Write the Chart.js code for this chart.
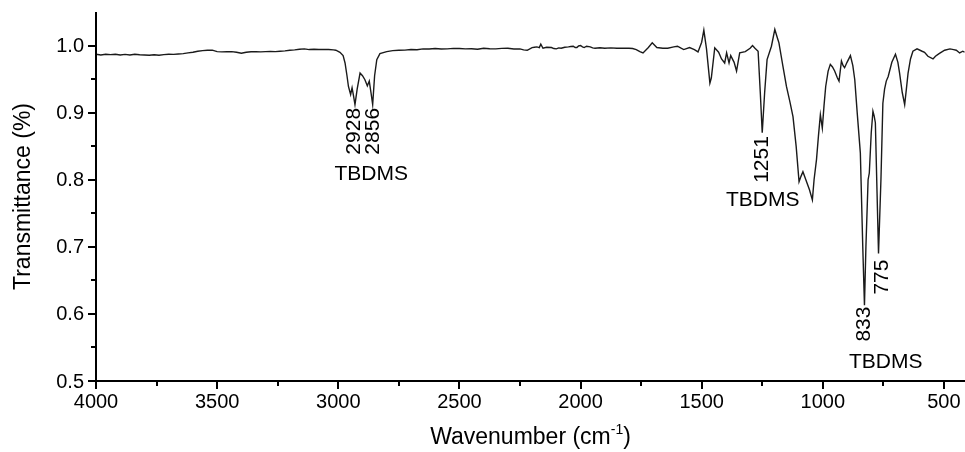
<!DOCTYPE html>
<html>
<head>
<meta charset="utf-8">
<script src="https://cdn.jsdelivr.net/npm/chart.js@4/dist/chart.umd.min.js"></script>
<style>
  html, body { margin: 0; padding: 0; background: #ffffff; }
  #wrap { width: 965px; height: 452px; position: relative; }
</style>
</head>
<body>
<div id="wrap"><canvas id="c"></canvas></div>
<script>
// ---- Data ----
const wavenumbers = [
  4000, 3980, 3960, 3940, 3920, 3900, 3880, 3860, 3840, 3820, 3800, 3780, 3760, 3740, 3720, 3700,
  3680, 3660, 3640, 3620, 3600, 3580, 3560, 3540, 3520, 3500, 3480, 3460, 3440, 3420, 3400, 3380,
  3360, 3340, 3320, 3300, 3280, 3260, 3240, 3220, 3200, 3180, 3160, 3140, 3120, 3100, 3080, 3060,
  3040, 3020, 3010, 2993, 2980, 2972, 2964, 2958, 2949, 2943, 2937, 2931, 2922, 2910, 2900, 2890,
  2880, 2872, 2865, 2858, 2850, 2841, 2828, 2800, 2775, 2750, 2725, 2700, 2675, 2650, 2625, 2600,
  2575, 2550, 2525, 2500, 2475, 2450, 2425, 2400, 2375, 2350, 2325, 2300, 2275, 2250, 2235, 2220,
  2200, 2190, 2180, 2170, 2164, 2155, 2140, 2120, 2110, 2100, 2090, 2080, 2065, 2050, 2040, 2030,
  2022, 2015, 2008, 2000, 1992, 1985, 1975, 1960, 1950, 1940, 1920, 1900, 1875, 1850, 1825, 1800,
  1785, 1770, 1755, 1742, 1720, 1704, 1685, 1660, 1640, 1615, 1600, 1585, 1574, 1550, 1530, 1515,
  1500, 1491, 1480, 1466, 1460, 1446, 1430, 1418, 1405, 1397, 1387, 1380, 1366, 1356, 1343, 1320,
  1300, 1290, 1280, 1267, 1258, 1250, 1240, 1230, 1212, 1198, 1188, 1181, 1165, 1150, 1135, 1123,
  1110, 1098, 1090, 1082, 1070, 1055, 1043, 1036, 1026, 1018, 1010, 1002, 995, 988, 978, 969,
  960, 951, 940, 933, 923, 916, 910, 900, 886, 876, 868, 858, 845, 835, 828, 822,
  813, 808, 800, 793, 788, 783, 776, 770, 760, 752, 745, 738, 730, 715, 700, 690,
  683, 672, 662, 655, 648, 638, 628, 611, 590, 580, 566, 545, 535, 520, 497, 475,
  460, 449, 435, 422, 415
];
const transmittance = [
  0.987, 0.986, 0.987, 0.9865, 0.987, 0.986, 0.9868, 0.986, 0.987, 0.9862, 0.986, 0.9855, 0.9862, 0.9855, 0.9865, 0.987,
  0.9868, 0.9875, 0.988, 0.989, 0.990, 0.9915, 0.9925, 0.993, 0.9932, 0.991, 0.9905, 0.9908, 0.991, 0.990, 0.9885, 0.990,
  0.9908, 0.991, 0.9905, 0.991, 0.9912, 0.991, 0.9915, 0.992, 0.993, 0.9935, 0.9945, 0.995, 0.994, 0.9945, 0.994, 0.9942,
  0.994, 0.9935, 0.993, 0.990, 0.985, 0.974, 0.955, 0.939, 0.927, 0.937, 0.925, 0.912, 0.935, 0.959, 0.955, 0.949,
  0.940, 0.947, 0.930, 0.912, 0.955, 0.979, 0.988, 0.991, 0.9925, 0.993, 0.9932, 0.994, 0.9938, 0.995, 0.9948, 0.9955,
  0.9948, 0.995, 0.9958, 0.9955, 0.995, 0.9952, 0.9945, 0.996, 0.9952, 0.995, 0.9958, 0.996, 0.9948, 0.995, 0.9935, 0.993,
  0.997, 0.9975, 0.998, 0.997, 1.002, 0.996, 0.9975, 0.997, 0.9955, 0.995, 0.9965, 0.996, 0.9975, 0.998, 0.9985, 0.999,
  0.997, 0.997, 0.9995, 1.000, 0.998, 0.997, 0.999, 0.998, 0.9965, 0.996, 0.9968, 0.996, 0.9965, 0.996, 0.9962, 0.996,
  0.9955, 0.994, 0.991, 0.989, 0.997, 1.004, 0.997, 0.996, 0.996, 0.998, 0.999, 0.996, 0.994, 0.997, 0.994, 0.9905,
  1.005, 1.023, 0.995, 0.944, 0.952, 0.9965, 0.990, 0.980, 0.974, 0.989, 0.974, 0.985, 0.975, 0.962, 0.989, 0.991,
  0.996, 1.000, 0.996, 0.9915, 0.930, 0.870, 0.930, 0.979, 0.999, 1.024, 1.012, 1.004, 0.970, 0.939, 0.915, 0.894,
  0.850, 0.797, 0.805, 0.812, 0.800, 0.785, 0.770, 0.800, 0.830, 0.865, 0.897, 0.877, 0.910, 0.939, 0.962, 0.972,
  0.968, 0.962, 0.952, 0.947, 0.977, 0.970, 0.967, 0.975, 0.985, 0.970, 0.949, 0.900, 0.840, 0.700, 0.613, 0.700,
  0.800, 0.810, 0.870, 0.902, 0.895, 0.885, 0.780, 0.690, 0.800, 0.914, 0.935, 0.947, 0.954, 0.975, 0.987, 0.975,
  0.959, 0.930, 0.912, 0.935, 0.959, 0.980, 0.9915, 0.995, 0.9915, 0.990, 0.984, 0.980, 0.984, 0.988, 0.993, 0.995,
  0.994, 0.993, 0.989, 0.9915, 0.990
];

// Axis ticks
const xTickValues = [4000, 3750, 3500, 3250, 3000, 2750, 2500, 2250, 2000, 1750, 1500, 1250, 1000, 750, 500];
const xTickLabels = ['4000', '', '3500', '', '3000', '', '2500', '', '2000', '', '1500', '', '1000', '', '500'];
const yTickValues = [0.5, 0.55, 0.6, 0.65, 0.7, 0.75, 0.8, 0.85, 0.9, 0.95, 1.0];
const yTickLabels = ['0.5', '', '0.6', '', '0.7', '', '0.8', '', '0.9', '', '1.0'];

// Peak annotations (text, wavenumber position, transmittance at the top end of the text)
const peakTexts = ['2928', '2856', '1251', '833', '775'];
const peakTextX = [2933, 2857, 1250, 827, 753];
const peakTextY = [0.907, 0.907, 0.865, 0.611, 0.681];
const groupTexts = ['TBDMS', 'TBDMS', 'TBDMS'];
const groupTextX = [2864, 1248, 740];
const groupTextY = [0.8075, 0.769, 0.528];

const xTitle = 'Wavenumber (cm';
const xTitleSup = '-1';
const yTitle = 'Transmittance (%)';

const FONT = '"Liberation Sans", Arial, sans-serif';

const axesPlugin = {
  id: 'axesPlugin',
  afterDraw(chart) {
    const ctx = chart.ctx;
    const xs = chart.scales.x, ys = chart.scales.y;
    const a = chart.chartArea;
    ctx.save();
    ctx.strokeStyle = '#000';
    ctx.fillStyle = '#000';
    ctx.lineWidth = 2;
    // axis lines
    ctx.beginPath();
    ctx.moveTo(a.left, ys.getPixelForValue(1.05));
    ctx.lineTo(a.left, a.bottom);
    ctx.lineTo(a.right, a.bottom);
    ctx.stroke();
    // y ticks
    yTickValues.forEach((v, i) => {
      const y = Math.round(ys.getPixelForValue(v));
      const len = yTickLabels[i] ? 8 : 5;
      ctx.beginPath();
      ctx.moveTo(a.left, y);
      ctx.lineTo(a.left - len, y);
      ctx.stroke();
    });
    // x ticks
    xTickValues.forEach((v, i) => {
      const x = Math.round(xs.getPixelForValue(v));
      const len = xTickLabels[i] ? 8 : 5;
      ctx.beginPath();
      ctx.moveTo(x, a.bottom);
      ctx.lineTo(x, a.bottom + len);
      ctx.stroke();
    });
    // tick labels
    ctx.font = '20px ' + FONT;
    ctx.textAlign = 'right';
    ctx.textBaseline = 'middle';
    yTickValues.forEach((v, i) => {
      if (!yTickLabels[i]) return;
      ctx.fillText(yTickLabels[i], a.left - 12, ys.getPixelForValue(v) + 1);
    });
    ctx.textAlign = 'center';
    ctx.textBaseline = 'top';
    xTickValues.forEach((v, i) => {
      if (!xTickLabels[i]) return;
      ctx.fillText(xTickLabels[i], xs.getPixelForValue(v), a.bottom + 11);
    });
    // axis titles
    ctx.font = '23px ' + FONT;
    const wMain = ctx.measureText(xTitle).width;
    ctx.font = '14px ' + FONT;
    const wSup = ctx.measureText(xTitleSup).width;
    ctx.font = '23px ' + FONT;
    const total = wMain + wSup + ctx.measureText(')').width;
    const cx = (a.left + a.right) / 2;
    const x0 = cx - total / 2;
    const by = 444;
    ctx.textAlign = 'left';
    ctx.textBaseline = 'alphabetic';
    ctx.fillText(xTitle, x0, by);
    ctx.font = '14px ' + FONT;
    ctx.fillText(xTitleSup, x0 + wMain, by - 10);
    ctx.font = '23px ' + FONT;
    ctx.fillText(')', x0 + wMain + wSup, by);

    ctx.save();
    ctx.translate(24, (a.top + a.bottom) / 2);
    ctx.rotate(-Math.PI / 2);
    ctx.textAlign = 'center';
    ctx.textBaseline = 'middle';
    ctx.fillText(yTitle, 0, 0);
    ctx.restore();

    // annotations
    ctx.font = '21px ' + FONT;
    peakTexts.forEach((t, i) => {
      ctx.save();
      ctx.translate(xs.getPixelForValue(peakTextX[i]), ys.getPixelForValue(peakTextY[i]));
      ctx.rotate(-Math.PI / 2);
      ctx.textAlign = 'right';
      ctx.textBaseline = 'middle';
      ctx.fillText(t, 0, 0);
      ctx.restore();
    });
    groupTexts.forEach((t, i) => {
      ctx.textAlign = 'center';
      ctx.textBaseline = 'middle';
      ctx.fillText(t, xs.getPixelForValue(groupTextX[i]), ys.getPixelForValue(groupTextY[i]));
    });
    ctx.restore();
  }
};

new Chart(document.getElementById('c'), {
  type: 'line',
  data: {
    datasets: [{
      data: wavenumbers.map((w, i) => ({ x: w, y: transmittance[i] })),
      borderColor: '#1a1a1a',
      borderWidth: 1.4,
      pointRadius: 0,
      tension: 0,
      fill: false
    }]
  },
  options: {
    responsive: true,
    maintainAspectRatio: false,
    animation: false,
    devicePixelRatio: 1,
    layout: { padding: { left: 0, right: 0, top: 12, bottom: 0 } },
    plugins: { legend: { display: false }, tooltip: { enabled: false } },
    scales: {
      x: {
        type: 'linear',
        reverse: true,
        min: 413,
        max: 4000,
        grid: { display: false, drawTicks: false },
        border: { display: false },
        ticks: { display: false },
        afterFit(s) { s.height = 71; }
      },
      y: {
        type: 'linear',
        min: 0.5,
        max: 1.05,
        grid: { display: false, drawTicks: false },
        border: { display: false },
        ticks: { display: false },
        afterFit(s) { s.width = 96; }
      }
    }
  },
  plugins: [axesPlugin]
});
</script>
</body>
</html>
